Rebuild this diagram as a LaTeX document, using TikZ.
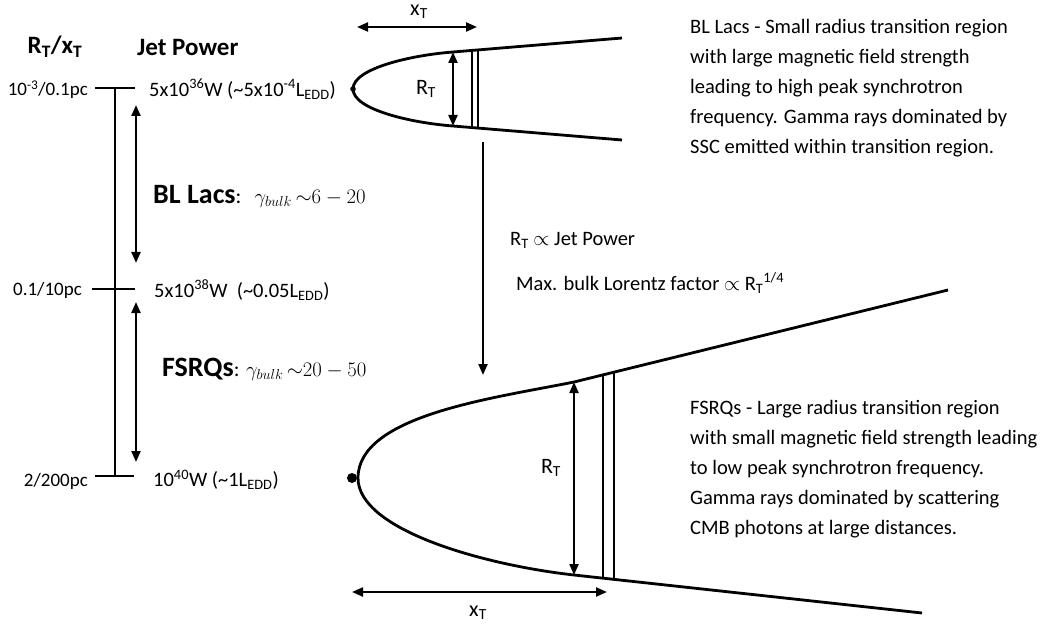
\documentclass[tikz,border=0pt]{standalone}
\usepackage{fontspec}
\setmainfont{Carlito}
\usetikzlibrary{arrows.meta}
\begin{document}
\begin{tikzpicture}[x=1pt,y=-1pt,
  jet/.style={line width=2.8pt},
  thin/.style={line width=2pt},
  scale line/.style={line width=2.8pt},
  arr/.style={line width=2.2pt,{Triangle[length=11pt,width=9pt]}-{Triangle[length=11pt,width=9pt]}},
  sarr/.style={line width=2.2pt,-{Triangle[length=11pt,width=9pt]}},
  lbl/.style={inner sep=0pt,font=\fontsize{19}{22}\selectfont},
  pw/.style={inner sep=0pt,anchor=west,font=\fontsize{20.5}{24}\selectfont},
  mid/.style={inner sep=0pt,anchor=west,font=\fontsize{20.5}{24}\selectfont},
  head/.style={inner sep=0pt,font=\fontsize{25}{28}\selectfont\bfseries},
  big/.style={inner sep=0pt,anchor=west,font=\fontsize{21.5}{24}\selectfont},
  sym/.style={inner sep=0pt,font=\fontsize{22}{24}\selectfont},
  para/.style={inner sep=0pt,anchor=north west,align=left,font=\fontsize{20.5}{30}\selectfont}
]
\useasboundingbox (0,0) rectangle (1062,628);

% ---------- left scale ----------
\node[head] (h1) at (55,47) {R\textsubscript{T}/x\textsubscript{T}};
\node[head,anchor=west] (h2) at (137,47) {Jet Power};

\coordinate (s1) at (115,88);
\coordinate (s3) at (115,476);
\draw[scale line] (s1) -- (s3);
\coordinate (k1a) at (95,88);  \coordinate (k1b) at (135,88);
\coordinate (k2a) at (92,289); \coordinate (k2b) at (135,289);
\coordinate (k3a) at (95,476); \coordinate (k3b) at (134,476);
\draw[scale line] (k1a) -- (k1b);
\draw[scale line] (k2a) -- (k2b);
\draw[scale line] (k3a) -- (k3b);

\node[lbl,anchor=east] (t1) at (88,90) {10\textsuperscript{-3}/0.1pc};
\node[lbl,anchor=east] (t2) at (82,290) {0.1/10pc};
\node[lbl,anchor=east] (t3) at (88,481) {2/200pc};

\node[pw] (p1) at (149,89) {5x10\textsuperscript{36}W (\textasciitilde5x10\textsuperscript{-4}L\textsubscript{EDD})};
\node[pw] (p2) at (154,290) {5x10\textsuperscript{38}W\ \ (\textasciitilde0.05L\textsubscript{EDD})};
\node[pw] (p3) at (153,480) {10\textsuperscript{40}W (\textasciitilde1L\textsubscript{EDD})};

\coordinate (a1t) at (136,105); \coordinate (a1b) at (136,263);
\coordinate (a2t) at (136,302); \coordinate (a2b) at (136,462);
\draw[arr] (a1t) -- (a1b);
\draw[arr] (a2t) -- (a2b);

\node[big] (bl) at (153,196) {{\fontsize{28}{30}\selectfont\bfseries BL Lacs}:\ \ \,$\gamma_{bulk}\,{\sim}6-20$};
\node[big] (fs) at (162,369) {{\fontsize{28}{30}\selectfont\bfseries FSRQs}: $\gamma_{bulk}\,{\sim}20-50$};

% ---------- top jet ----------
\coordinate (tv) at (353,89);
\coordinate (tu) at (453,52);
\coordinate (tl) at (453,126);
\coordinate (tur) at (622,38);
\coordinate (tlr) at (622,140);
\draw[jet] (tur) -- (tu) .. controls (413,55) and (353,68) .. (tv)
              .. controls (353,110) and (413,123) .. (tl) -- (tlr);
\fill (tv) circle (2.8pt);
\draw[thin] (472,51) -- (472,127);
\draw[thin] (478,50) -- (478,128);
\draw[arr] (tu) -- (tl);
\node[sym] (rt1) at (426,89) {R\textsubscript{T}};
\coordinate (xt1l) at (357,27); \coordinate (xt1r) at (477,27);
\draw[arr] (xt1l) -- (xt1r);
\node[sym] (xt1) at (419,12) {x\textsubscript{T}};

% ---------- middle ----------
\coordinate (mv1) at (483,142); \coordinate (mv2) at (483,375);
\draw[sarr] (mv1) -- (mv2);
\node[mid] (m1) at (510,240) {R\textsubscript{T} $\propto$ Jet Power};
\node[mid] (m2) at (516,283) {Max. bulk Lorentz factor $\propto$ R\textsubscript{T}\textsuperscript{1/4}};

% ---------- bottom jet ----------
\coordinate (bv) at (358,478);
\coordinate (bu) at (574,382);
\coordinate (bl2) at (574,575);
\coordinate (bur) at (948,290);
\coordinate (blr) at (922,613);
\draw[jet] (bur) -- (bu) .. controls (495,398) and (358,415) .. (bv)
              .. controls (358,530) and (484,565) .. (bl2) -- (blr);
\fill (352,478) circle (5pt);
\draw[thin] (603,375) -- (603,579);
\draw[thin] (614,373) -- (614,580);
\draw[arr] (bu) -- (bl2);
\node[sym] (rt2) at (551,468) {R\textsubscript{T}};
\coordinate (xt2l) at (352,592); \coordinate (xt2r) at (607,592);
\draw[arr] (xt2l) -- (xt2r);
\node[sym] (xt2) at (478,613) {x\textsubscript{T}};

% ---------- descriptions ----------
\node[para] (d1) at (690,19) {BL Lacs - Small radius transition region\\
with large magnetic field strength\\
leading to high peak synchrotron\\
frequency. Gamma rays dominated by\\
SSC emitted within transition region.};
\node[para] (d2) at (690,400) {FSRQs - Large radius transition region\\
with small magnetic field strength leading\\
to low peak synchrotron frequency.\\
Gamma rays dominated by scattering\\
CMB photons at large distances.};
\end{tikzpicture}
\end{document}
